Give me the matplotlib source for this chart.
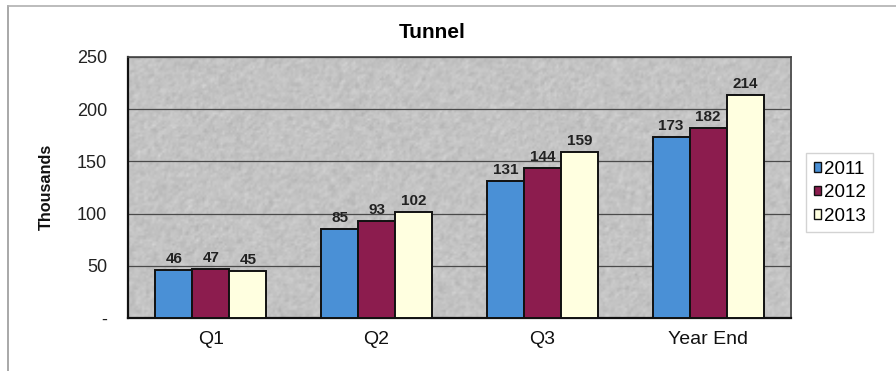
import matplotlib
matplotlib.use("Agg")
import matplotlib.pyplot as plt
from matplotlib.lines import Line2D
from matplotlib.patches import Patch
import numpy as np

categories = ["Q1", "Q2", "Q3", "Year End"]
years = ["2011", "2012", "2013"]
values_2011 = [46, 85, 131, 173]
values_2012 = [47, 93, 144, 182]
values_2013 = [45, 102, 159, 214]
y_ticks = [0, 50, 100, 150, 200, 250]
y_tick_labels = ["-", "50", "100", "150", "200", "250"]

series = [values_2011, values_2012, values_2013]
colors = ["#4a90d6", "#8c1c4e", "#ffffe0"]

plt.rcParams["font.family"] = ["Liberation Sans", "DejaVu Sans"]

W, H = 896, 371
fig = plt.figure(figsize=(W / 100, H / 100), dpi=100)
fig.patch.set_facecolor("white")

# outer chart frame (left and top edges)
fig.add_artist(Line2D([8 / W, 8 / W], [0, 1 - 6 / H], color="#9a9a9a", lw=1.2))
fig.add_artist(Line2D([8 / W, 1], [1 - 6 / H, 1 - 6 / H], color="#b0b0b0", lw=1.2))

ax = fig.add_axes([128 / W, 1 - 318 / H, (791 - 128) / W, (318 - 57) / H])
ax.set_facecolor("#c3c3c3")

x = np.arange(len(categories))
bw = 0.223
ax.set_xlim(-0.5, len(categories) - 0.5)
ax.set_ylim(0, 250)

# granite-style texture fill for the plot area
rng = np.random.default_rng(7)
grain = rng.normal(0, 1, (130, 330))
grain = (grain + np.roll(grain, 1, 0) + np.roll(grain, 1, 1)) / 3
tex = np.clip(0.765 + 0.035 * grain, 0, 1)
ax.imshow(tex, cmap="gray", vmin=0, vmax=1, extent=(-0.5, len(categories) - 0.5, 0, 250),
          aspect="auto", interpolation="bilinear", zorder=0)

for i, (vals, col) in enumerate(zip(series, colors)):
    pos = x + (i - 1) * bw
    ax.bar(pos, vals, width=bw, color=col, edgecolor="#111111",
           linewidth=1.4, zorder=3, label=years[i])
    for p, v in zip(pos, vals):
        ax.annotate(str(v), (p, v), xytext=(0, 11), textcoords="offset pixels",
                    ha="center", va="center", fontsize=11, fontweight="bold",
                    color="#222222", zorder=4)

ax.set_yticks(y_ticks)
ax.set_yticklabels(y_tick_labels, fontsize=13, color="#222222")
ax.set_xticks(x)
ax.set_xticklabels(categories, fontsize=14, color="#111111")
ax.tick_params(axis="y", length=0, pad=15)
ax.tick_params(axis="x", length=0, pad=9.5)
ax.yaxis.grid(True, color="#4a4a4a", lw=0.9, zorder=1)
ax.set_axisbelow(True)

for s in ["left", "bottom"]:
    ax.spines[s].set_color("#111111")
    ax.spines[s].set_linewidth(1.6)
for s in ["top", "right"]:
    ax.spines[s].set_color("#444444")
    ax.spines[s].set_linewidth(1.2)

fig.text(46 / W, 1 - 187 / H, "Thousands", rotation=90, ha="center", va="center",
         fontsize=11.7, fontweight="bold", color="#111111")

fig.text(432 / W, 1 - 33 / H, "Tunnel", ha="center", va="center",
         fontsize=15, fontweight="bold")

handles = [Patch(facecolor=c, edgecolor="#111111", linewidth=1.0) for c in colors]
leg = fig.legend(handles, years, loc="upper left",
                 bbox_to_anchor=(806 / W, 1 - 153 / H), fontsize=13.5,
                 frameon=True, fancybox=False, handlelength=0.4,
                 handleheight=0.4, handletextpad=0.15, labelspacing=0.35,
                 borderpad=0.4, borderaxespad=0)
leg.get_frame().set_edgecolor("#c8c8c8")
leg.get_frame().set_linewidth(1.0)

fig.savefig("out.png", dpi=100)
